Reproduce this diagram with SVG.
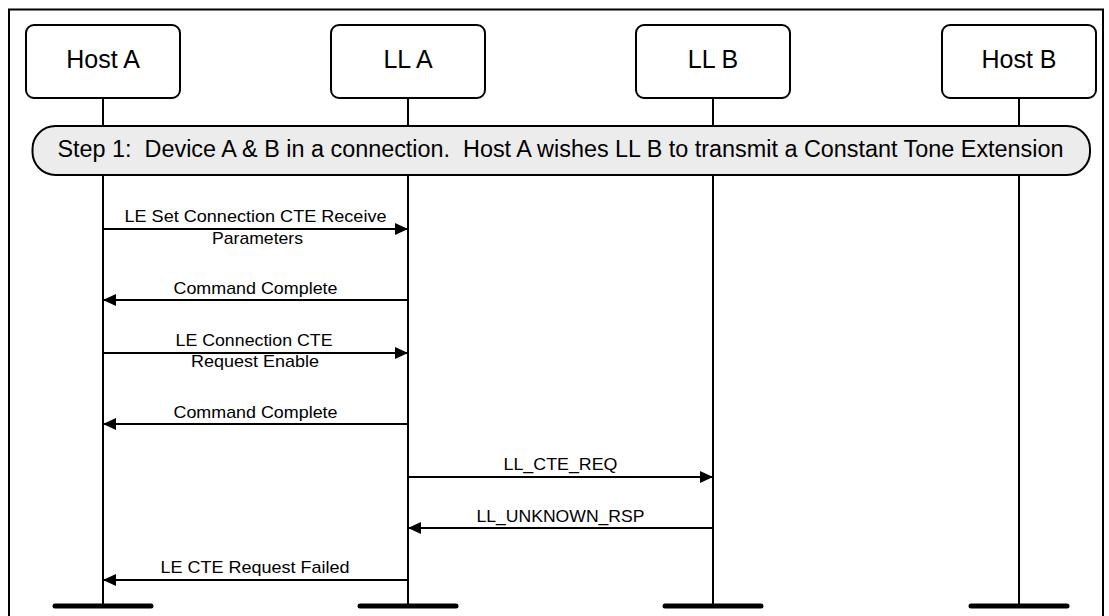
<svg xmlns="http://www.w3.org/2000/svg" width="1109" height="616" viewBox="0 0 1109 616">
<style>
  .box{fill:#ffffff;stroke:#000;stroke-width:2}
  .hd{font-family:"Liberation Sans",Arial,sans-serif;font-size:25px;fill:#000;text-anchor:middle}
  .life{stroke:#000;stroke-width:2;fill:none}
  .bar{stroke:#000;stroke-width:5;stroke-linecap:round}
  .msg{stroke:#000;stroke-width:2;fill:none;marker-end:url(#ah)}
  .lbl{font-family:"Liberation Sans",Arial,sans-serif;font-size:17px;fill:#000;text-anchor:middle}
  .step{fill:#ececec;stroke:#000;stroke-width:2}
  .steptxt{font-family:"Liberation Sans",Arial,sans-serif;font-size:23px;fill:#000;text-anchor:middle}
</style>
<defs>
  <marker id="ah" markerUnits="userSpaceOnUse" markerWidth="14" markerHeight="14" refX="13" refY="6" orient="auto">
    <path d="M0,0 L13,6 L0,12 Z" fill="#000"/>
  </marker>
</defs>
<rect x="0" y="0" width="1109" height="616" fill="#fff"/>
<rect x="9" y="9.5" width="1094" height="700" fill="none" stroke="#000" stroke-width="2"/>

<g id="lifelines">
  <line class="life" x1="103" y1="98" x2="103" y2="606"/>
  <line class="life" x1="408" y1="98" x2="408" y2="606"/>
  <line class="life" x1="713" y1="98" x2="713" y2="606"/>
  <line class="life" x1="1019" y1="98" x2="1019" y2="606"/>
  <line class="bar" x1="55" y1="606" x2="151" y2="606"/>
  <line class="bar" x1="360" y1="606" x2="456" y2="606"/>
  <line class="bar" x1="665" y1="606" x2="761" y2="606"/>
  <line class="bar" x1="971" y1="606" x2="1067" y2="606"/>
</g>

<g id="hostA">
  <rect class="box" x="26" y="25" width="154" height="73" rx="8"/>
  <text class="hd" x="103" y="68">Host A</text>
</g>
<g id="llA">
  <rect class="box" x="331" y="25" width="154" height="73" rx="8"/>
  <text class="hd" x="408" y="68">LL A</text>
</g>
<g id="llB">
  <rect class="box" x="636" y="25" width="154" height="73" rx="8"/>
  <text class="hd" x="713" y="68">LL B</text>
</g>
<g id="hostB">
  <rect class="box" x="942" y="25" width="154" height="73" rx="8"/>
  <text class="hd" x="1019" y="68">Host B</text>
</g>

<g id="step1">
  <rect class="step" x="32.5" y="126" width="1057.5" height="49" rx="23"/>
  <text class="steptxt" x="560.5" y="157" textLength="1006" lengthAdjust="spacingAndGlyphs" xml:space="preserve">Step 1:  Device A &amp; B in a connection.  Host A wishes LL B to transmit a Constant Tone Extension</text>
</g>

<g id="connectors">
  <line class="msg" x1="103" y1="229" x2="408" y2="229"/>
  <line class="msg" x1="408" y1="300" x2="103" y2="300"/>
  <line class="msg" x1="103" y1="353" x2="408" y2="353"/>
  <line class="msg" x1="408" y1="424" x2="103" y2="424"/>
  <line class="msg" x1="408" y1="477" x2="713" y2="477"/>
  <line class="msg" x1="713" y1="528" x2="408" y2="528"/>
  <line class="msg" x1="408" y1="580" x2="103" y2="580"/>
</g>

<g id="labels">
  <text class="lbl" x="255.5" y="222" textLength="262" lengthAdjust="spacingAndGlyphs">LE Set Connection CTE Receive</text>
  <text class="lbl" x="257.5" y="244" textLength="91" lengthAdjust="spacingAndGlyphs">Parameters</text>
  <text class="lbl" x="255.5" y="294" textLength="164" lengthAdjust="spacingAndGlyphs">Command Complete</text>
  <text class="lbl" x="254" y="346" textLength="157" lengthAdjust="spacingAndGlyphs">LE Connection CTE</text>
  <text class="lbl" x="255" y="367" textLength="128" lengthAdjust="spacingAndGlyphs">Request Enable</text>
  <text class="lbl" x="255.5" y="418" textLength="164" lengthAdjust="spacingAndGlyphs">Command Complete</text>
  <text class="lbl" x="560.5" y="470" textLength="114" lengthAdjust="spacingAndGlyphs">LL_CTE_REQ</text>
  <text class="lbl" x="560.5" y="522" textLength="168" lengthAdjust="spacingAndGlyphs">LL_UNKNOWN_RSP</text>
  <text class="lbl" x="255" y="573" textLength="189" lengthAdjust="spacingAndGlyphs">LE CTE Request Failed</text>
</g>
</svg>
